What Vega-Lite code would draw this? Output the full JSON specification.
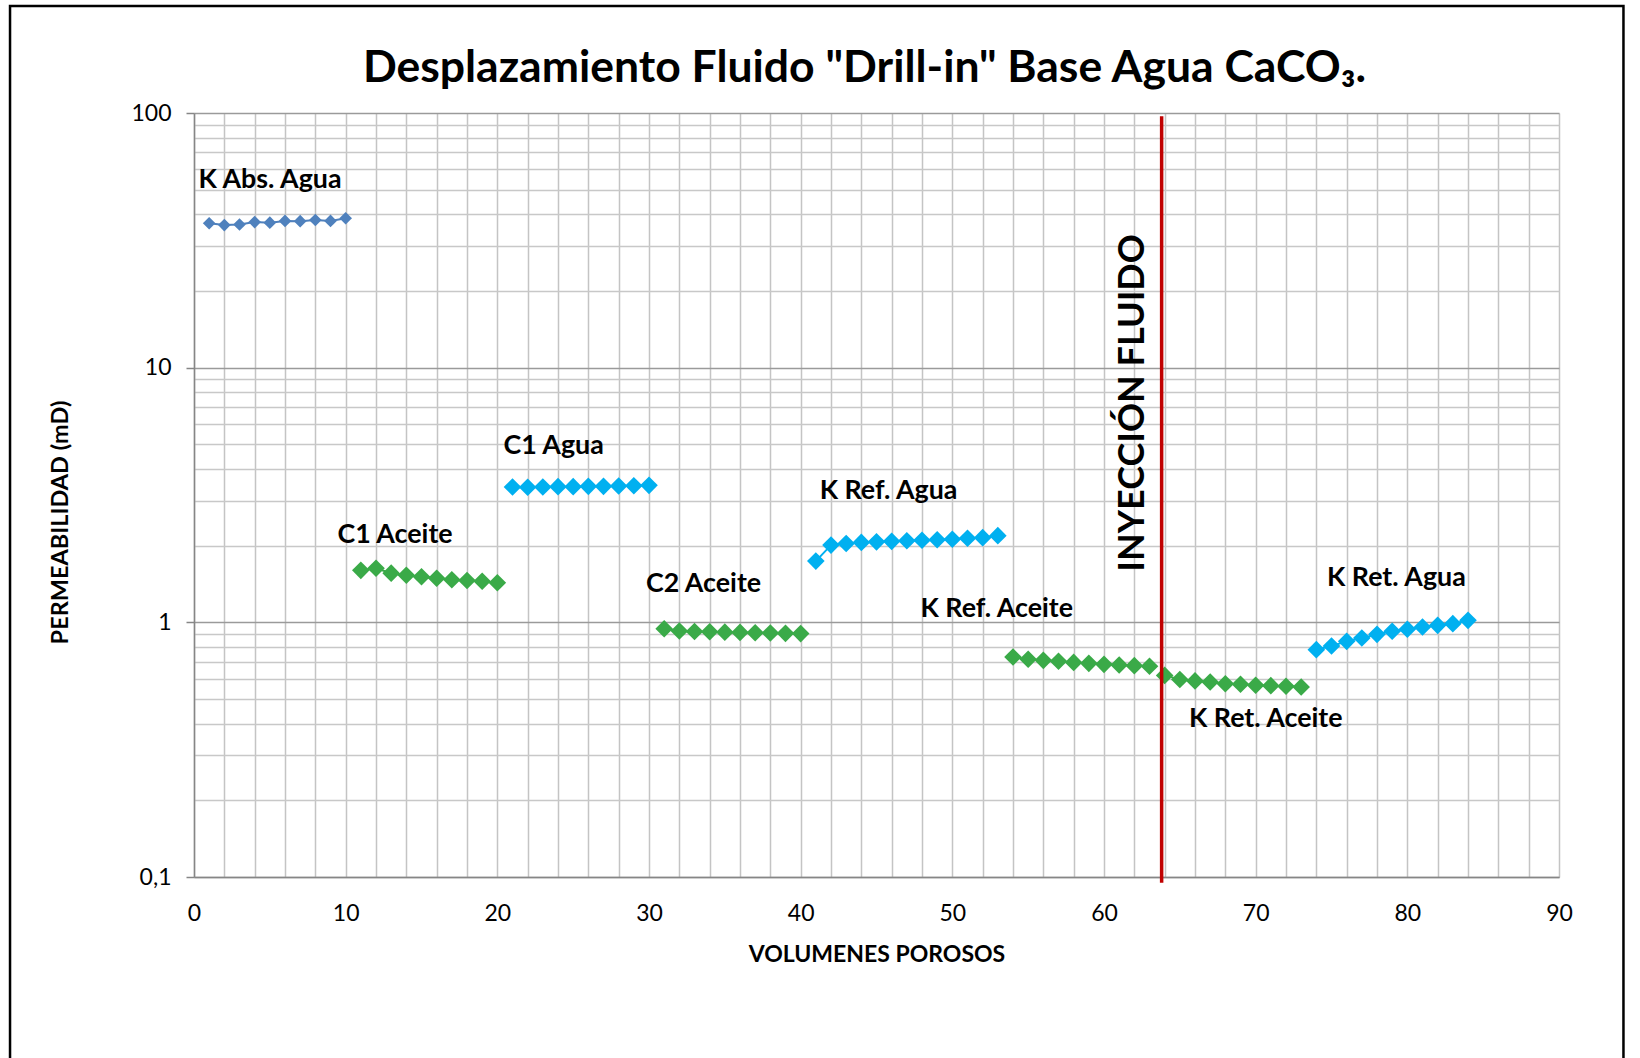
{
  "$schema": "https://vega.github.io/schema/vega-lite/v6.json",
  "width": 1365,
  "height": 764,
  "autosize": {"type": "none"},
  "padding": {"left": 194, "top": 113, "right": 81, "bottom": 181},
  "background": "white",
  "config": {"font": "Lato", "view": {"stroke": null}, "axis": {"labelOverlap": false}},
  "title": {
    "text": "Desplazamiento Fluido \"Drill-in\" Base Agua CaCO₃.",
    "fontSize": 44.5,
    "fontWeight": "bold",
    "font": "Lato",
    "color": "#000000",
    "anchor": "middle",
    "frame": "group",
    "dx": -12,
    "dy": 86.5,
    "offset": 0
  },
  "datasets": {
    "series": [
      {"series": "K Abs. Agua", "vp": 1, "k": 36.9},
      {"series": "K Abs. Agua", "vp": 2, "k": 36.3},
      {"series": "K Abs. Agua", "vp": 3, "k": 36.5},
      {"series": "K Abs. Agua", "vp": 4, "k": 37.3},
      {"series": "K Abs. Agua", "vp": 5, "k": 37.1},
      {"series": "K Abs. Agua", "vp": 6, "k": 37.7},
      {"series": "K Abs. Agua", "vp": 7, "k": 37.6},
      {"series": "K Abs. Agua", "vp": 8, "k": 38.0},
      {"series": "K Abs. Agua", "vp": 9, "k": 37.7},
      {"series": "K Abs. Agua", "vp": 10, "k": 38.6},
      {"series": "C1 Aceite", "vp": 11, "k": 1.60},
      {"series": "C1 Aceite", "vp": 12, "k": 1.63},
      {"series": "C1 Aceite", "vp": 13, "k": 1.56},
      {"series": "C1 Aceite", "vp": 14, "k": 1.53},
      {"series": "C1 Aceite", "vp": 15, "k": 1.51},
      {"series": "C1 Aceite", "vp": 16, "k": 1.49},
      {"series": "C1 Aceite", "vp": 17, "k": 1.47},
      {"series": "C1 Aceite", "vp": 18, "k": 1.46},
      {"series": "C1 Aceite", "vp": 19, "k": 1.45},
      {"series": "C1 Aceite", "vp": 20, "k": 1.43},
      {"series": "C1 Agua", "vp": 21, "k": 3.40},
      {"series": "C1 Agua", "vp": 22, "k": 3.39},
      {"series": "C1 Agua", "vp": 23, "k": 3.40},
      {"series": "C1 Agua", "vp": 24, "k": 3.41},
      {"series": "C1 Agua", "vp": 25, "k": 3.41},
      {"series": "C1 Agua", "vp": 26, "k": 3.42},
      {"series": "C1 Agua", "vp": 27, "k": 3.42},
      {"series": "C1 Agua", "vp": 28, "k": 3.43},
      {"series": "C1 Agua", "vp": 29, "k": 3.44},
      {"series": "C1 Agua", "vp": 30, "k": 3.45},
      {"series": "C2 Aceite", "vp": 31, "k": 0.944},
      {"series": "C2 Aceite", "vp": 32, "k": 0.925},
      {"series": "C2 Aceite", "vp": 33, "k": 0.920},
      {"series": "C2 Aceite", "vp": 34, "k": 0.918},
      {"series": "C2 Aceite", "vp": 35, "k": 0.915},
      {"series": "C2 Aceite", "vp": 36, "k": 0.913},
      {"series": "C2 Aceite", "vp": 37, "k": 0.910},
      {"series": "C2 Aceite", "vp": 38, "k": 0.908},
      {"series": "C2 Aceite", "vp": 39, "k": 0.905},
      {"series": "C2 Aceite", "vp": 40, "k": 0.903},
      {"series": "K Ref. Agua", "vp": 41, "k": 1.74},
      {"series": "K Ref. Agua", "vp": 42, "k": 2.01},
      {"series": "K Ref. Agua", "vp": 43, "k": 2.04},
      {"series": "K Ref. Agua", "vp": 44, "k": 2.06},
      {"series": "K Ref. Agua", "vp": 45, "k": 2.07},
      {"series": "K Ref. Agua", "vp": 46, "k": 2.08},
      {"series": "K Ref. Agua", "vp": 47, "k": 2.09},
      {"series": "K Ref. Agua", "vp": 48, "k": 2.10},
      {"series": "K Ref. Agua", "vp": 49, "k": 2.11},
      {"series": "K Ref. Agua", "vp": 50, "k": 2.12},
      {"series": "K Ref. Agua", "vp": 51, "k": 2.14},
      {"series": "K Ref. Agua", "vp": 52, "k": 2.15},
      {"series": "K Ref. Agua", "vp": 53, "k": 2.19},
      {"series": "K Ref. Aceite", "vp": 54, "k": 0.731},
      {"series": "K Ref. Aceite", "vp": 55, "k": 0.716},
      {"series": "K Ref. Aceite", "vp": 56, "k": 0.709},
      {"series": "K Ref. Aceite", "vp": 57, "k": 0.703},
      {"series": "K Ref. Aceite", "vp": 58, "k": 0.696},
      {"series": "K Ref. Aceite", "vp": 59, "k": 0.690},
      {"series": "K Ref. Aceite", "vp": 60, "k": 0.684},
      {"series": "K Ref. Aceite", "vp": 61, "k": 0.680},
      {"series": "K Ref. Aceite", "vp": 62, "k": 0.676},
      {"series": "K Ref. Aceite", "vp": 63, "k": 0.672},
      {"series": "K Ret. Aceite", "vp": 64, "k": 0.619},
      {"series": "K Ret. Aceite", "vp": 65, "k": 0.596},
      {"series": "K Ret. Aceite", "vp": 66, "k": 0.589},
      {"series": "K Ret. Aceite", "vp": 67, "k": 0.583},
      {"series": "K Ret. Aceite", "vp": 68, "k": 0.574},
      {"series": "K Ret. Aceite", "vp": 69, "k": 0.571},
      {"series": "K Ret. Aceite", "vp": 70, "k": 0.566},
      {"series": "K Ret. Aceite", "vp": 71, "k": 0.564},
      {"series": "K Ret. Aceite", "vp": 72, "k": 0.561},
      {"series": "K Ret. Aceite", "vp": 73, "k": 0.557},
      {"series": "K Ret. Agua", "vp": 74, "k": 0.781},
      {"series": "K Ret. Agua", "vp": 75, "k": 0.807},
      {"series": "K Ret. Agua", "vp": 76, "k": 0.842},
      {"series": "K Ret. Agua", "vp": 77, "k": 0.868},
      {"series": "K Ret. Agua", "vp": 78, "k": 0.897},
      {"series": "K Ret. Agua", "vp": 79, "k": 0.922},
      {"series": "K Ret. Agua", "vp": 80, "k": 0.939},
      {"series": "K Ret. Agua", "vp": 81, "k": 0.959},
      {"series": "K Ret. Agua", "vp": 82, "k": 0.973},
      {"series": "K Ret. Agua", "vp": 83, "k": 0.988},
      {"series": "K Ret. Agua", "vp": 84, "k": 1.018}
    ],
    "labels": [
      {"label": "K Abs. Agua", "vp": 0.3, "k": 54.6},
      {"label": "C1 Aceite", "vp": 9.46, "k": 2.21},
      {"label": "C1 Agua", "vp": 20.4, "k": 4.93},
      {"label": "C2 Aceite", "vp": 29.8, "k": 1.414},
      {"label": "K Ref. Agua", "vp": 41.25, "k": 3.28},
      {"label": "K Ref. Aceite", "vp": 47.9, "k": 1.127},
      {"label": "K Ret. Aceite", "vp": 65.6, "k": 0.417},
      {"label": "K Ret. Agua", "vp": 74.7, "k": 1.497}
    ],
    "marker": [
      {"label": "INYECCIÓN FLUIDO", "vp": 61.9, "k": 7.27}
    ],
    "injection": [
      {"vp": 63.8, "top": 97, "bottom": 0.095}
    ],
    "frame": [
      {"left": -12.13, "right": 94.25, "top": 263, "bottom": 0.01}
    ]
  },
  "layer": [
    {
      "data": {"name": "series"},
      "mark": {"type": "line", "strokeWidth": 2},
      "encoding": {
        "x": {
          "field": "vp",
          "type": "quantitative",
          "scale": {"domain": [0, 90], "nice": false, "zero": false},
          "axis": {
            "values": [0,2,4,6,8,10,12,14,16,18,20,22,24,26,28,30,32,34,36,38,40,42,44,46,48,50,52,54,56,58,60,62,64,66,68,70,72,74,76,78,80,82,84,86,88,90],
            "tickCount": 200,
            "labelExpr": "datum.value % 10 === 0 ? format(datum.value, 'd') : ''",
            "grid": true,
            "gridColor": "#C4C4C4",
            "gridWidth": 1.5,
            "ticks": false,
            "domainColor": "#868686",
            "domainWidth": 1.5,
            "labelFontSize": 23,
            "labelColor": "#000000",
            "labelPadding": 25,
            "labelFlush": false,
            "labelOverlap": false,
            "title": "VOLUMENES POROSOS",
            "titleFontSize": 23,
            "titleFontWeight": "bold",
            "titleColor": "#000000",
            "titlePadding": 18
          }
        },
        "y": {
          "field": "k",
          "type": "quantitative",
          "scale": {"type": "log", "domain": [0.1, 100], "nice": false},
          "axis": {
            "values": [0.1,0.2,0.3,0.4,0.5,0.6,0.7,0.8,0.9,1,2,3,4,5,6,7,8,9,10,20,30,40,50,60,70,80,90,100],
            "tickCount": 200,
            "labelExpr": "datum.value == 0.1 ? '0,1' : datum.value == 1 ? '1' : datum.value == 10 ? '10' : datum.value == 100 ? '100' : ''",
            "grid": true,
            "gridColor": {"condition": {"test": "datum.value == 0.1 || datum.value == 1 || datum.value == 10 || datum.value == 100", "value": "#9A9A9A"}, "value": "#C8C8C8"},
            "gridWidth": 1.5,
            "tickColor": "#868686",
            "tickOpacity": {"condition": {"test": "datum.value == 0.1 || datum.value == 1 || datum.value == 10 || datum.value == 100", "value": 1}, "value": 0},
            "tickSize": 8,
            "tickWidth": 1.5,
            "domainColor": "#868686",
            "domainWidth": 1.5,
            "labelFontSize": 23,
            "labelColor": "#000000",
            "labelPadding": 15,
            "labelOverlap": false,
            "title": "PERMEABILIDAD (mD)",
            "titleFontSize": 23.5,
            "titleFontWeight": "bold",
            "titleColor": "#000000",
            "titleY": 409,
            "titlePadding": 58
          }
        },
        "color": {
          "field": "series",
          "type": "nominal",
          "scale": {
            "domain": ["K Abs. Agua", "C1 Aceite", "C1 Agua", "C2 Aceite", "K Ref. Agua", "K Ref. Aceite", "K Ret. Aceite", "K Ret. Agua"],
            "range": ["#4F81BD", "#3AAA48", "#00B0F0", "#3AAA48", "#00B0F0", "#3AAA48", "#3AAA48", "#00B0F0"]
          },
          "legend": null
        },
        "detail": {"field": "series"}
      }
    },
    {
      "data": {"name": "series"},
      "mark": {"type": "point", "shape": "diamond", "filled": true, "opacity": 1, "strokeWidth": 0},
      "encoding": {
        "x": {"field": "vp", "type": "quantitative"},
        "y": {"field": "k", "type": "quantitative"},
        "color": {"field": "series", "type": "nominal", "legend": null},
        "size": {"condition": {"test": "datum.series === 'K Abs. Agua'", "value": 160}, "value": 310}
      }
    },
    {
      "data": {"name": "injection"},
      "mark": {"type": "rule", "color": "#C00000", "strokeWidth": 3.5},
      "encoding": {
        "x": {"field": "vp", "type": "quantitative"},
        "y": {"field": "top", "type": "quantitative"},
        "y2": {"field": "bottom"}
      }
    },
    {
      "data": {"name": "labels"},
      "mark": {"type": "text", "align": "left", "baseline": "middle", "font": "Lato", "fontSize": 26.8, "fontWeight": "bold", "color": "#000000"},
      "encoding": {
        "x": {"field": "vp", "type": "quantitative"},
        "y": {"field": "k", "type": "quantitative"},
        "text": {"field": "label"}
      }
    },
    {
      "data": {"name": "marker"},
      "mark": {"type": "text", "align": "center", "baseline": "middle", "angle": 270, "font": "Lato", "fontSize": 36, "fontWeight": "bold", "color": "#000000"},
      "encoding": {
        "x": {"field": "vp", "type": "quantitative"},
        "y": {"field": "k", "type": "quantitative"},
        "text": {"field": "label"}
      }
    },
    {
      "data": {"name": "frame"},
      "mark": {"type": "rect", "fill": null, "fillOpacity": 0, "stroke": "#000000", "strokeWidth": 2.5, "clip": false},
      "encoding": {
        "x": {"field": "left", "type": "quantitative"},
        "x2": {"field": "right"},
        "y": {"field": "top", "type": "quantitative"},
        "y2": {"field": "bottom"}
      }
    }
  ]
}
